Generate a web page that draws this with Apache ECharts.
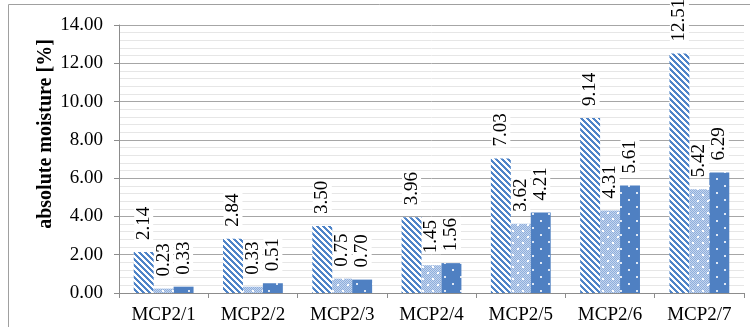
<!DOCTYPE html>
<html><head><meta charset="utf-8">
<script src="https://cdn.jsdelivr.net/npm/echarts@6/dist/echarts.min.js"></script>
<style>html,body{margin:0;padding:0;background:#fff}#c{width:750px;height:327px}</style>
</head><body><div id="c"></div>
<script>
var categories = ['MCP2/1','MCP2/2','MCP2/3','MCP2/4','MCP2/5','MCP2/6','MCP2/7'];
var series1 = [2.14, 2.84, 3.50, 3.96, 7.03, 9.14, 12.51];
var series2 = [0.23, 0.33, 0.75, 1.45, 3.62, 4.31, 5.42];
var series3 = [0.33, 0.51, 0.70, 1.56, 4.21, 5.61, 6.29];
var yTicks = {min: 0, max: 14, interval: 2};
var yTitle = 'absolute moisture [%]';

function stripePattern() {
  var n = 6, c = document.createElement('canvas'); c.width = n; c.height = n;
  var g = c.getContext('2d');
  g.fillStyle = '#ffffff'; g.fillRect(0,0,n,n);
  g.fillStyle = '#4f84c8';
  for (var x = 0; x < n; x++) for (var y = 0; y < n; y++) {
    if (((x - y) % n + n) % n < 3) g.fillRect(x, y, 1, 1);
  }
  return c;
}
function checkPattern() {
  var w = 10, h = 12, c = document.createElement('canvas'); c.width = w; c.height = h;
  var g = c.getContext('2d');
  g.fillStyle = '#c4d5ee'; g.fillRect(0,0,w,h);
  g.fillStyle = '#8eaedc';
  for (var x = 0; x < w; x++) for (var y = 0; y < h; y++) {
    if ((x + y) % 2 === 0) g.fillRect(x, y, 1, 1);
  }
  g.fillStyle = '#ffffff';
  g.fillRect(2, 2, 2, 2); g.fillRect(7, 8, 2, 2);
  return c;
}
function dotPattern() {
  var w = 16, h = 14, c = document.createElement('canvas'); c.width = w; c.height = h;
  var g = c.getContext('2d');
  g.fillStyle = '#4f80c2'; g.fillRect(0,0,w,h);
  g.fillStyle = '#dfe8f5';
  g.fillRect(4, 3, 2, 2); g.fillRect(12, 10, 2, 2);
  return c;
}

var font = '"Liberation Serif", "Times New Roman", serif';
var fs = 19;
var labelCfg = {
  show: true, position: 'top', rotate: 90, align: 'left', verticalAlign: 'middle',
  distance: 11, fontFamily: font, fontSize: fs, color: '#000',
  backgroundColor: '#fff', padding: [0, 1],
  formatter: function (p) { return p.value.toFixed(2); }
};

var chart = echarts.init(document.getElementById('c'), null, {renderer: 'canvas'});
chart.setOption({
  animation: false,
  grid: {left: 119, right: 6, top: 25, bottom: 34},
  xAxis: {
    type: 'category', data: categories,
    axisLine: {lineStyle: {color: '#8c8c8c', width: 1}},
    axisTick: {show: true, length: 5, lineStyle: {color: '#8c8c8c'}},
    axisLabel: {fontFamily: font, fontSize: fs, color: '#000', margin: 13}
  },
  yAxis: {
    type: 'value', min: yTicks.min, max: yTicks.max, interval: yTicks.interval,
    axisLine: {show: true, lineStyle: {color: '#8c8c8c'}},
    axisTick: {show: true, length: 5, lineStyle: {color: '#8c8c8c'}},
    axisLabel: {fontFamily: font, fontSize: fs, color: '#000', margin: 16,
      formatter: function (v) { return v.toFixed(2); }},
    splitLine: {show: true, lineStyle: {color: '#a6a6a6'}},
    minorTick: {show: false, splitNumber: 5},
    minorSplitLine: {show: true, lineStyle: {color: '#e6e6e6'}}
  },
  series: [
    {type: 'bar', data: series1, barGap: '0%', barCategoryGap: '33%',
     itemStyle: {color: {image: stripePattern(), repeat: 'repeat'}}, label: labelCfg},
    {type: 'bar', data: series2, barGap: '0%', barCategoryGap: '33%',
     itemStyle: {color: {image: checkPattern(), repeat: 'repeat'}}, label: labelCfg},
    {type: 'bar', data: series3, barGap: '0%', barCategoryGap: '33%',
     itemStyle: {color: {image: dotPattern(), repeat: 'repeat'}}, label: labelCfg}
  ],
  graphic: [
    {type: 'rect', z: -10, silent: true, shape: {x: 8.5, y: 4.5, width: 800, height: 400},
     style: {fill: 'none', stroke: '#a0a0a0', lineWidth: 1}},
    {type: 'text', x: 46, y: 134, rotation: Math.PI / 2,
     style: {text: yTitle, font: 'bold 20px ' + font, fill: '#000',
       textAlign: 'center', textVerticalAlign: 'middle'}}
  ]
});
</script></body></html>
